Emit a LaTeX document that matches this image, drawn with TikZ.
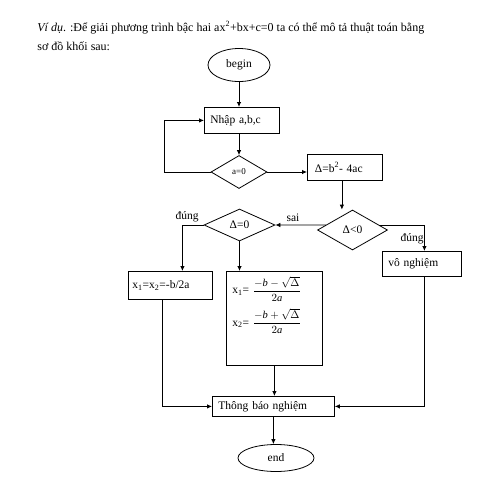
\documentclass[tikz,border=0pt]{standalone}
\usepackage{amsmath}
\usepackage{fontspec}
\setmainfont{Liberation Serif}
\usetikzlibrary{shapes.geometric,arrows.meta,calc}
\tikzset{ t/.style = { ellipse
                     , draw
                     , inner sep = 0pt
                     },
          b/.style = { rectangle
                     , draw
                     , anchor     = north west
                     , inner xsep = 6pt
                     , inner ysep = 0pt
                     , align      = left
                     },
          d/.style = { diamond
                     , draw
                     , inner sep    = 0pt
                     , shape aspect = 2
                     },
          arr/.style = { -{Latex[length=5pt,width=4.5pt]} },
          lbl/.style = { inner sep = 0pt }
        }

\begin{document}
\begin{tikzpicture}[x=1pt, y=-1pt, line width=0.8pt,
            every node/.style={font=\fontsize{11.5}{13}\selectfont}]
            \path[fill=white] (0,0) rectangle (496,496);
            % heading
            \node[lbl, anchor=base west, font=\fontsize{12}{14}\selectfont] (head1) at (37,31)
                {{\itshape Ví dụ}. :Để giải phương trình bậc hai ax\textsuperscript{2}+bx+c=0 ta có thể mô tả thuật toán bằng};
            \node[lbl, anchor=base west, font=\fontsize{12}{14}\selectfont] (head2) at (37,50) {sơ đồ khối sau:};
            % blocks
            \node[t, minimum width=62pt, minimum height=33pt] (begin) at (239,65) {begin};
            \node[b, minimum height=26pt, text width=63pt] (nhap) at (204,107) {Nhập a,b,c};
            \node[d, minimum width=56pt, minimum height=33pt,
                  font=\fontsize{9}{10}\selectfont] (a0) at (239,172) {a=0};
            \node[b, minimum height=26pt, text width=60pt, inner xsep=7.5pt] (dbox) at (307,154)
                {Δ=b\textsuperscript{2}- 4ac};
            \node[d, minimum width=70pt, minimum height=40pt] (dlt) at (352.5,230) {Δ<0};
            \node[d, minimum width=71pt, minimum height=32pt] (d0) at (239.5,225) {Δ=0};
            \node[b, minimum height=28pt, text width=76pt, inner xsep=4pt] (x1box) at (128,271)
                {x\textsubscript{1}=x\textsubscript{2}=-b/2a};
            \node[b, minimum height=94pt, text width=84pt, inner ysep=5pt] (big) at (226,271)
                {\parbox[t][84pt][t]{84pt}{x\textsubscript{1}= {\fontsize{10.5}{12}\selectfont$\dfrac{-\textit{b}-\sqrt{\Delta}}{2\textit{a}}$}\\[6pt]
                 x\textsubscript{2}= {\fontsize{10.5}{12}\selectfont$\dfrac{-\textit{b}+\sqrt{\Delta}}{2\textit{a}}$}}};
            \node[b, minimum height=25pt, text width=67pt, inner ysep=0pt] (vbox) at (382,251)
                {vô nghiệm};
            \node[b, minimum height=20pt, text width=110pt] (tb) at (212,396) {Thông báo nghiệm};
            \node[t, minimum width=76pt, minimum height=27pt] (endn) at (276,458) {end};
            % connectors
            \draw[arr] (begin.south) -- (begin.south |- nhap.north);
            \draw[arr] (a0.north |- nhap.south) -- (a0.north);
            \draw[arr] (a0.west) -- ++(-46,0) |- (nhap.west);
            \draw[arr] (a0.east) -- (a0.east -| dbox.west);
            \draw[arr] ([xshift=-3pt]dbox.south) -- ([xshift=-3pt]dbox.south |- dlt.north);
            \draw[arr] ($(dlt.north)!0.75!(dlt.west)$) -- (d0.east);
            \draw[arr] ($(dlt.north)!0.75!(dlt.east)$) -| ([xshift=2.5pt]vbox.north);
            \draw[arr] (d0.west) -| ([xshift=12pt]x1box.north);
            \draw[arr] (d0.south) -- (d0.south |- big.north);
            \draw[arr] ([xshift=-8pt]x1box.south) |- (tb.west);
            \draw[arr] (big.south) -- (big.south |- tb.north);
            \draw[arr] ([xshift=2.5pt]vbox.south) |- (tb.east);
            \draw[arr] (tb.south) -- (tb.south |- endn.north);
            % labels
            \node[lbl, anchor=south] (ldung) at (187,222) {đúng};
            \node[lbl, anchor=south] (lsai) at (293,222) {sai};
            \node[lbl, anchor=south east] (rdung) at (424,244) {đúng};
\end{tikzpicture}
\end{document}
